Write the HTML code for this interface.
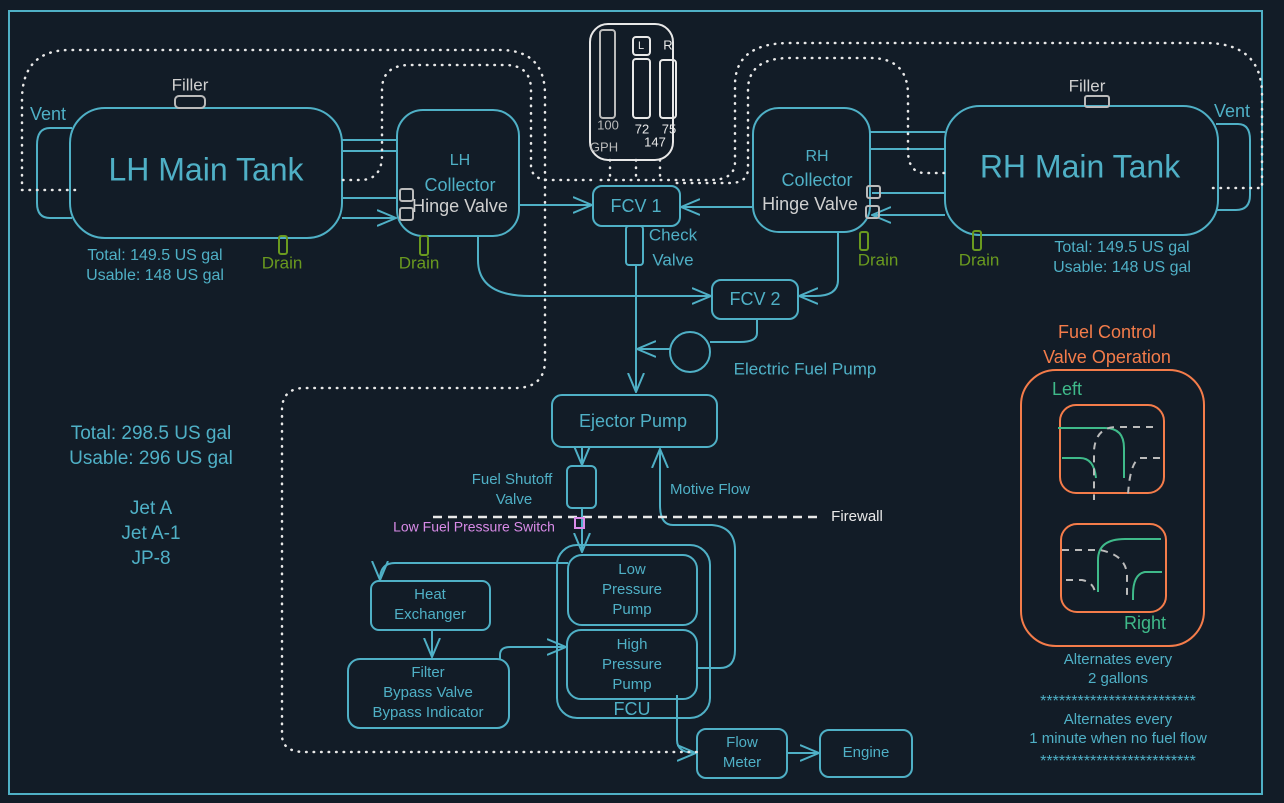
<!DOCTYPE html>
<html><head><meta charset="utf-8"><style>
html,body{margin:0;padding:0;background:#121c27;}
svg{display:block}
text{font-family:"Liberation Sans",sans-serif;text-anchor:middle;dominant-baseline:middle}
</style></head><body>
<svg width="1284" height="803" viewBox="0 0 1284 803" xmlns="http://www.w3.org/2000/svg">
<defs>
<marker id="a" viewBox="0 0 20 20" refX="19" refY="10" markerWidth="20" markerHeight="20" markerUnits="userSpaceOnUse" orient="auto"><path d="M0,2 L19,10 L0,18" fill="none" stroke="#4fb0c6" stroke-width="2"/></marker>
</defs>
<rect width="1284" height="803" fill="#121c27"/>
<g fill="none" stroke="#4fb0c6" stroke-width="2">
<rect x="9" y="11" width="1253" height="783"/>
<rect x="70" y="108" width="272" height="130" rx="35"/>
<path d="M72,128 H50 Q37,128 37,145 V203 Q37,218 50,218 H72"/>
<rect x="397" y="110" width="122" height="126" rx="26"/>
<path d="M342,140 H397 M342,151 H397"/>
<path d="M342,198 H396 M342,218 H396" marker-end="url(#a)"/>
<rect x="753" y="108" width="117" height="124" rx="26"/>
<rect x="945" y="106" width="273" height="129" rx="35"/>
<path d="M1216,124 H1238 Q1250,124 1250,140 V195 Q1250,210 1236,210 H1216"/>
<path d="M945,132 H870 M945,149 H870"/>
<path d="M945,193 H872 M945,215 H872" marker-end="url(#a)"/>
<rect x="593" y="186" width="87" height="40" rx="9"/>
<path d="M519,205 H592" marker-end="url(#a)"/>
<path d="M753,207 H681" marker-end="url(#a)"/>
<rect x="626" y="226" width="17" height="39" rx="3"/>
<path d="M636,265 V392" marker-end="url(#a)"/>
<rect x="712" y="280" width="86" height="39" rx="9"/>
<path d="M478,236 V260 Q478,296 530,296 H711" marker-end="url(#a)"/>
<path d="M838,232 V280 Q838,296 815,296 H799" marker-end="url(#a)"/>
<circle cx="690" cy="352" r="20"/>
<path d="M757,319 V333 Q757,342 740,342 H710"/>
<path d="M670,349 H637" marker-end="url(#a)"/>
<rect x="552" y="395" width="165" height="52" rx="10"/>
<path d="M582,447 V465" marker-end="url(#a)"/>
<rect x="567" y="466" width="29" height="42" rx="5"/>
<path d="M582,508 V552" marker-end="url(#a)"/>
<rect x="557" y="545" width="153" height="173" rx="20"/>
<rect x="568" y="555" width="129" height="70" rx="14"/>
<rect x="567" y="630" width="130" height="69" rx="14"/>
<path d="M697,668 H720 Q735,668 735,650 V550 Q735,527 712,525 H673 Q660,525 660,505 V449" marker-end="url(#a)"/>
<path d="M568,563 H395 Q380,563 380,580" marker-end="url(#a)"/>
<rect x="371" y="581" width="119" height="49" rx="8"/>
<path d="M432,630 V657" marker-end="url(#a)"/>
<rect x="348" y="659" width="161" height="69" rx="12"/>
<path d="M500,659 V655 Q500,647 510,647 H566" marker-end="url(#a)"/>
<path d="M677,695 V740 Q677,753 696,753" marker-end="url(#a)"/>
<rect x="697" y="729" width="90" height="49" rx="9"/>
<path d="M787,753 H819" marker-end="url(#a)"/>
<rect x="820" y="730" width="92" height="47" rx="9"/>
</g>
<g fill="none" stroke="#e8e8e8" stroke-width="2.5" stroke-dasharray="0.5 7" stroke-linecap="round">
<path d="M75,190 H22 V100 Q22,50 70,50 H500 Q545,50 545,95 V360 Q545,388 515,388 H305 Q282,388 282,410 V735 Q282,752 305,752 H697"/>
<path d="M343,180 H360 Q382,180 382,155 V90 Q382,65 410,65 H505 Q531,65 531,90 V165 Q531,180 550,180 H592"/>
<path d="M1213,188 H1262 V95 Q1262,43 1205,43 H790 Q735,43 735,85 V162 Q735,180 710,180 H600"/>
<path d="M944,173 H925 Q908,173 908,150 V95 Q908,58 870,58 H790 Q748,58 748,90 V168 Q748,183 730,183 H675"/>
<path d="M610,160 V178 M636,160 V178 M660,160 V178"/>
</g>
<g stroke="#e8e8e8" stroke-width="2.5" stroke-dasharray="9 6"><path d="M433,517 H822"/></g>
<g fill="none" stroke="#e8e8e8" stroke-width="2">
<rect x="590" y="24" width="83" height="136" rx="18"/>
<rect x="600" y="30" width="15" height="88" rx="3" stroke="#bbb"/>
<rect x="633" y="59" width="17" height="59" rx="3"/>
<rect x="660" y="60" width="16" height="58" rx="3"/>
<rect x="633" y="37" width="17" height="18" rx="3"/>
</g>
<g fill="#e8e8e8" font-size="13">
<text x="608" y="126" fill="#bbb">100</text><text x="642" y="130">72</text><text x="669" y="130">75</text>
<text x="604" y="148" fill="#bbb">GPH</text><text x="655" y="143">147</text>
<text x="641" y="46" font-size="11">L</text><text x="668" y="46">R</text>
</g>
<g fill="none" stroke="#bbb" stroke-width="2">
<rect x="175" y="96" width="30" height="12" rx="4"/>
<rect x="1085" y="96" width="24" height="11" rx="2"/>
<rect x="400" y="189" width="13" height="12" rx="2"/><rect x="400" y="208" width="13" height="12" rx="2"/>
<rect x="867" y="186" width="13" height="12" rx="2"/><rect x="866" y="206" width="13" height="12" rx="2"/>
</g>
<g fill="none" stroke="#6a9a1f" stroke-width="2">
<rect x="279" y="236" width="8" height="18" rx="2"/><rect x="420" y="236" width="8" height="19" rx="2"/>
<rect x="860" y="232" width="8" height="18" rx="2"/><rect x="973" y="231" width="8" height="19" rx="2"/>
</g>
<rect x="575" y="518" width="9" height="10" fill="none" stroke="#d98be8" stroke-width="2"/>
<g fill="#4fb0c6" font-size="16">
<text x="206" y="172" font-size="32">LH Main Tank</text>
<text x="1080" y="169" font-size="32">RH Main Tank</text>
<text x="48" y="115" font-size="18">Vent</text><text x="1232" y="112" font-size="18">Vent</text>
<text x="460" y="161">LH</text><text x="460" y="186" font-size="18">Collector</text>
<text x="817" y="157">RH</text><text x="817" y="181" font-size="18">Collector</text>
<text x="155" y="256">Total: 149.5 US gal</text><text x="155" y="276">Usable: 148 US gal</text>
<text x="1122" y="248">Total: 149.5 US gal</text><text x="1122" y="268">Usable: 148 US gal</text>
<text x="636" y="207" font-size="18">FCV 1</text><text x="755" y="300" font-size="18">FCV 2</text>
<text x="673" y="236" font-size="17">Check</text><text x="673" y="261" font-size="17">Valve</text>
<text x="805" y="370" font-size="17">Electric Fuel Pump</text>
<text x="633" y="422" font-size="18">Ejector Pump</text>
<text x="512" y="480" font-size="15">Fuel Shutoff</text><text x="514" y="500" font-size="15">Valve</text>
<text x="710" y="490" font-size="15">Motive Flow</text>
<text x="632" y="570" font-size="15">Low</text><text x="632" y="590" font-size="15">Pressure</text><text x="632" y="610" font-size="15">Pump</text>
<text x="632" y="645" font-size="15">High</text><text x="632" y="665" font-size="15">Pressure</text><text x="632" y="685" font-size="15">Pump</text>
<text x="632" y="710" font-size="18">FCU</text>
<text x="430" y="595" font-size="15">Heat</text><text x="430" y="615" font-size="15">Exchanger</text>
<text x="428" y="673" font-size="15">Filter</text><text x="428" y="693" font-size="15">Bypass Valve</text><text x="428" y="713" font-size="15">Bypass Indicator</text>
<text x="742" y="743" font-size="15">Flow</text><text x="742" y="763" font-size="15">Meter</text>
<text x="866" y="753" font-size="15">Engine</text>
<text x="151" y="434" font-size="19">Total: 298.5 US gal</text><text x="151" y="459" font-size="19">Usable: 296 US gal</text>
<text x="151" y="509" font-size="19">Jet A</text><text x="151" y="534" font-size="19">Jet A-1</text><text x="151" y="559" font-size="19">JP-8</text>
<text x="1118" y="660" font-size="15">Alternates every</text><text x="1118" y="679" font-size="15">2 gallons</text>
<text x="1118" y="702" font-size="16">*************************</text>
<text x="1118" y="720" font-size="15">Alternates every</text><text x="1118" y="739" font-size="15">1 minute when no fuel flow</text>
<text x="1118" y="762" font-size="16">*************************</text>
</g>
<g fill="#d0d0d0">
<text x="190" y="86" font-size="17">Filler</text><text x="1087" y="87" font-size="17">Filler</text>
<text x="460" y="207" font-size="18">Hinge Valve</text><text x="810" y="205" font-size="18">Hinge Valve</text>
</g>
<g fill="#6a9a1f" font-size="17"><text x="282" y="264">Drain</text><text x="419" y="264">Drain</text><text x="878" y="261">Drain</text><text x="979" y="261">Drain</text></g>
<text x="474" y="528" fill="#d98be8" font-size="14">Low Fuel Pressure Switch</text>
<text x="857" y="517" fill="#e8e8e8" font-size="15">Firewall</text>
<g fill="#f47c4a" font-size="18"><text x="1107" y="333">Fuel Control</text><text x="1107" y="358">Valve Operation</text></g>
<g fill="none" stroke="#f47c4a" stroke-width="2">
<rect x="1021" y="370" width="183" height="276" rx="35"/>
<rect x="1060" y="405" width="104" height="88" rx="16"/>
<rect x="1061" y="524" width="105" height="88" rx="16"/>
</g>
<g fill="none" stroke="#3fba8a" stroke-width="2">
<path d="M1058,428 H1105 Q1124,428 1124,448 V478"/>
<path d="M1062,458 H1080 Q1094,458 1096,478"/>
<path d="M1161,539 H1125 Q1098,539 1098,560 V592"/>
<path d="M1162,572 H1145 Q1133,574 1133,595 V600"/>
</g>
<g fill="none" stroke="#bbb" stroke-width="2" stroke-dasharray="7 6">
<path d="M1153,427 H1115 Q1096,428 1094,450 V500"/>
<path d="M1160,458 H1140 Q1130,462 1128,495"/>
<path d="M1062,550 H1100 Q1126,555 1127,575 V600"/>
<path d="M1066,580 H1082 Q1093,582 1095,592"/>
</g>
<g fill="#3fba8a" font-size="18"><text x="1067" y="390">Left</text><text x="1145" y="624">Right</text></g>
</svg>
</body></html>
